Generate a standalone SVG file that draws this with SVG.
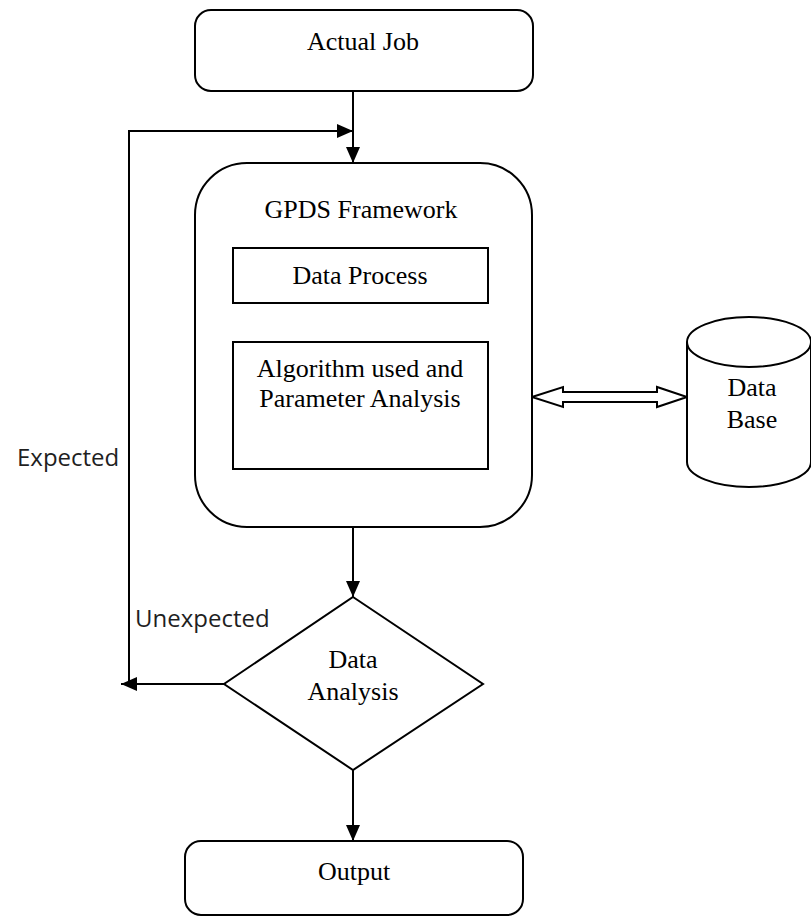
<svg xmlns="http://www.w3.org/2000/svg" width="811" height="920" viewBox="0 0 811 920">
  <style>
    .shape { fill: #ffffff; stroke: #000000; stroke-width: 2; }
    .wire { fill: none; stroke: #000000; stroke-width: 2; }
    .label { font-family: "Liberation Serif", "Times New Roman", serif; font-size: 26px; fill: #000000; text-anchor: middle; }
    .branch { font-family: "Open Sans", "Noto Sans", sans-serif; font-size: 24px; fill: #1f1f1f; }
  </style>
  <defs>
    <marker id="head" markerUnits="userSpaceOnUse" markerWidth="16" markerHeight="14" refX="16" refY="7" orient="auto">
      <path d="M0,0 L16,7 L0,14 Z" fill="#000000"/>
    </marker>
  </defs>

  <rect width="811" height="920" fill="#ffffff"/>

  <!-- connectors -->
  <g id="connectors">
    <line class="wire" x1="353" y1="91" x2="353" y2="163" marker-end="url(#head)"/>
    <polyline class="wire" points="129,684 129,131 353,131" marker-end="url(#head)"/>
    <line class="wire" x1="353" y1="527" x2="353" y2="597" marker-end="url(#head)"/>
    <line class="wire" x1="224" y1="684" x2="121" y2="684" marker-end="url(#head)"/>
    <line class="wire" x1="353" y1="770" x2="353" y2="841" marker-end="url(#head)"/>
    <!-- two-way hollow arrow between framework and database -->
    <polygon class="shape" points="532,397 563,387 563,392 657,392 657,387 687,397 657,407 657,402 563,402 563,407"/>
    <text class="branch" x="17" y="466">Expected</text>
    <text class="branch" x="135" y="627">Unexpected</text>
  </g>

  <g id="actual-job">
    <rect class="shape" x="195" y="10" width="338" height="81" rx="16" ry="16"/>
    <text class="label" x="363" y="50">Actual Job</text>
  </g>

  <g id="gpds-framework">
    <rect class="shape" x="195" y="163" width="337" height="364" rx="52" ry="52"/>
    <text class="label" x="361" y="218">GPDS Framework</text>
  </g>

  <g id="data-process">
    <rect class="shape" x="233" y="248" width="255" height="55"/>
    <text class="label" x="360" y="284">Data Process</text>
  </g>

  <g id="algorithm-analysis">
    <rect class="shape" x="233" y="342" width="255" height="127"/>
    <text class="label" x="360" y="377">Algorithm used and</text>
    <text class="label" x="360" y="407">Parameter Analysis</text>
  </g>

  <g id="database">
    <path class="shape" d="M687,342 L687,462 A62,25 0 0 0 811,462 L811,342 A62,25 0 0 0 687,342 Z"/>
    <path class="wire" d="M687,342 A62,25 0 0 0 811,342"/>
    <text class="label" x="752" y="396">Data</text>
    <text class="label" x="752" y="428">Base</text>
  </g>

  <g id="data-analysis">
    <polygon class="shape" points="353,597 483,684 353,770 224,684"/>
    <text class="label" x="353" y="668">Data</text>
    <text class="label" x="353" y="700">Analysis</text>
  </g>

  <g id="output">
    <rect class="shape" x="185" y="841" width="338" height="74" rx="16" ry="16"/>
    <text class="label" x="354" y="880">Output</text>
  </g>
</svg>
